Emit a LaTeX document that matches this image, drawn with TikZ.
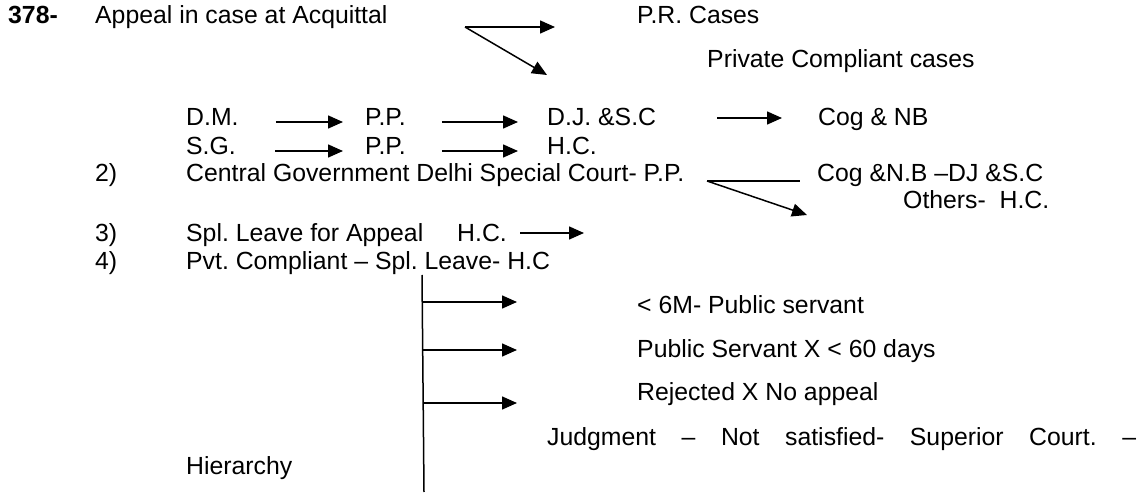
\documentclass[tikz,border=0pt]{standalone}
\usepackage{fontspec}
\setmainfont{Liberation Sans}
\usetikzlibrary{arrows.meta}
\usetikzlibrary{math}

\begin{document}
\begin{tikzpicture}[x=1pt,y=-1pt,
  txt/.style={inner sep=0pt,anchor=base west,font=\fontsize{24.8}{28.75}\selectfont\frenchspacing},
  arr/.style={line width=1.5pt,-{Triangle[length=15pt,width=13pt]}},
  ln/.style={line width=1.5pt}]
\tikzmath{
\ra=24;
\rb=68;
\rdm=126;
\rsg=155;
\rcg=182;
\rsl=242;
\rpv=270;
\ta=95;
\tb=186;
}
\useasboundingbox (0,0) rectangle (1143,502);

\node[txt] (num) at (8,\ra) {\bfseries 378-};
\node[txt] (appeal) at (\ta,\ra) {Appeal in case at Acquittal};
\node[txt] (prc) at (637,\ra) {P.R. Cases};
\node[txt] (pcc) at (707,\rb) {Private Compliant cases};
\coordinate (fork) at (465,27);
\coordinate (prtip) at (555,27);
\coordinate (pctip) at (547,75);
\draw[arr] (fork) -- (prtip);
\draw[arr] (fork) -- (pctip);
%%%%%%%%%%   D.M. / S.G.

\node[txt] (dm) at (\tb,\rdm) {D.M.};
\node[txt] (pp1) at (365,\rdm) {P.P.};
\node[txt] (djsc) at (547,\rdm) {D.J. \&S.C};
\node[txt] (cog) at (818,\rdm) {Cog \& NB};
\draw[arr,shorten <=37pt,shorten >=22pt] ([yshift=4pt]dm.base east) -- ([yshift=4pt]pp1.base west);
\draw[arr,shorten <=36pt,shorten >=29pt] ([yshift=4pt]pp1.base east) -- ([yshift=4pt]djsc.base west);
\draw[arr,shorten <=61pt,shorten >=36pt] ([yshift=8pt]djsc.base east) -- ([yshift=8pt]cog.base west);

\node[txt] (sg) at (\tb,\rsg) {S.G.};
\node[txt] (pp2) at (365,\rsg) {P.P.};
\node[txt] (hc2) at (547,\rsg) {H.C.};
\draw[arr,shorten <=39pt,shorten >=22pt] ([yshift=4pt]sg.base east) -- ([yshift=4pt]pp2.base west);
\draw[arr,shorten <=36pt,shorten >=29pt] ([yshift=4pt]pp2.base east) -- ([yshift=4pt]hc2.base west);
%%%%%%%%%%   2) 3) 4)

\node[txt] (n2) at (\ta,\rcg) {2)};
\node[txt] (cgov) at (\tb,\rcg) {Central Government Delhi Special Court- P.P.};
\node[txt] (cogdj) at (817,\rcg) {Cog \&N.B –DJ \&S.C};
\node[txt] (oth) at (903,209) {Others-\ \ H.C.};
\coordinate (split) at (707,181);
\coordinate (othtip) at (807,215);
\draw[ln] (split) -- ([shift={(-17pt,1pt)}]cogdj.base west);
\draw[arr] (split) -- (othtip);

\node[txt] (n3) at (\ta,\rsl) {3)};
\node[txt] (spl) at (\tb,\rsl) {Spl. Leave for Appeal};
\node[txt] (hc3) at (457,\rsl) {H.C.};
\coordinate (hctip) at (584,233);
\draw[arr] ([shift={(13pt,9pt)}]hc3.base east) -- (hctip);

\node[txt] (n4) at (\ta,\rpv) {4)};
\node[txt] (pvt) at (\tb,\rpv) {Pvt. Compliant – Spl. Leave- H.C};
%%%%%%%%%%   branches

\coordinate (stemtop) at (422,275);
\coordinate (stembot) at (424,492);
\draw[ln] (stemtop) -- (stembot);
\foreach \y/\n in {302/a,350/b,403/c}{
  \coordinate (br\n) at (423,\y);
  \draw[arr] (br\n) -- ++(94,0);
}
\node[txt] (six) at (637,314) {< 6M- Public servant};
\node[txt] (psx) at (637,358) {Public Servant X < 60 days};
\node[txt] (rej) at (637,400) {Rejected X No appeal};
\node[txt] (judg) at (547,445) {\makebox[589pt][s]{Judgment – Not satisfied- Superior Court. –}};
\node[txt] (hier) at (\tb,474) {Hierarchy};
\end{tikzpicture}
\end{document}
